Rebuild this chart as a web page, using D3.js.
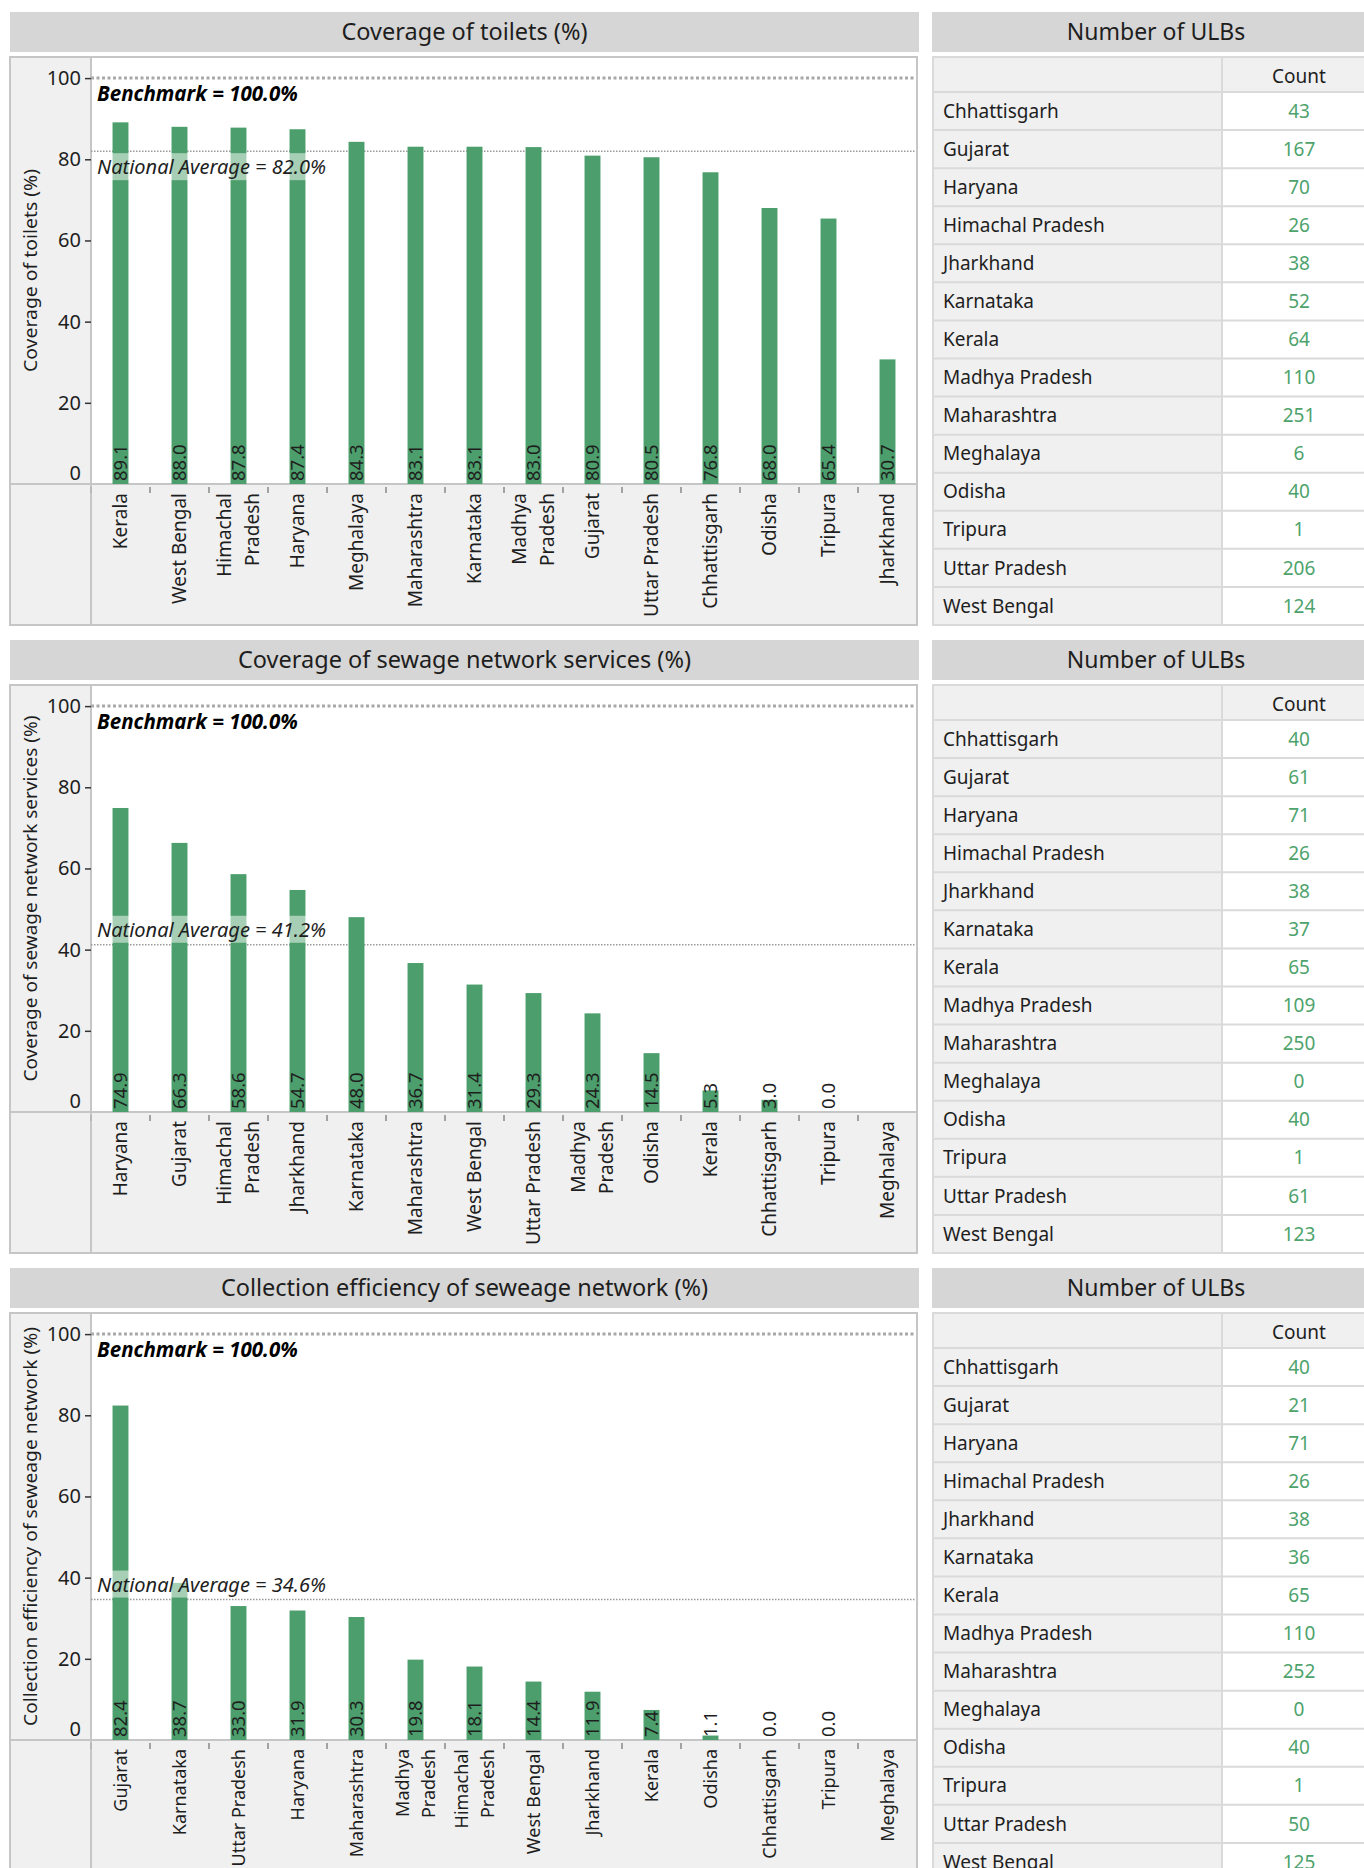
<!DOCTYPE html>
<html><head><meta charset="utf-8">
<script src="https://cdn.jsdelivr.net/npm/d3@7"></script>
<style>
body{margin:0;background:#fff}
svg{display:block;font-family:"Noto Sans",sans-serif}
</style>
</head><body>
<svg id="c" width="1364" height="1868"></svg>
<script>
// ---------- DATA ----------
const panelTitles = ["Coverage of toilets (%)", "Coverage of sewage network services (%)", "Collection efficiency of seweage network (%)"];
const yAxisTitles = ["Coverage of toilets (%)", "Coverage of sewage network services (%)", "Collection efficiency of seweage network (%)"];
const tableTitle = "Number of ULBs";
const tableHeader = "Count";

const toiletStates = ["Kerala","West Bengal","Himachal Pradesh","Haryana","Meghalaya","Maharashtra","Karnataka","Madhya Pradesh","Gujarat","Uttar Pradesh","Chhattisgarh","Odisha","Tripura","Jharkhand"];
const toiletValues = [89.1,88.0,87.8,87.4,84.3,83.1,83.1,83.0,80.9,80.5,76.8,68.0,65.4,30.7];
const toiletAverage = 82.0;

const sewageStates = ["Haryana","Gujarat","Himachal Pradesh","Jharkhand","Karnataka","Maharashtra","West Bengal","Uttar Pradesh","Madhya Pradesh","Odisha","Kerala","Chhattisgarh","Tripura","Meghalaya"];
const sewageValues = [74.9,66.3,58.6,54.7,48.0,36.7,31.4,29.3,24.3,14.5,5.3,3.0,0.0,null];
const sewageAverage = 41.2;

const collectionStates = ["Gujarat","Karnataka","Uttar Pradesh","Haryana","Maharashtra","Madhya Pradesh","Himachal Pradesh","West Bengal","Jharkhand","Kerala","Odisha","Chhattisgarh","Tripura","Meghalaya"];
const collectionValues = [82.4,38.7,33.0,31.9,30.3,19.8,18.1,14.4,11.9,7.4,1.1,0.0,0.0,null];
const collectionAverage = 34.6;

const benchmarkValue = 100;
const yTickValues = [0,20,40,60,80,100];
const wrappedLabels = {"Himachal Pradesh":["Himachal","Pradesh"], "Madhya Pradesh":["Madhya","Pradesh"]};

const tableStates = ["Chhattisgarh","Gujarat","Haryana","Himachal Pradesh","Jharkhand","Karnataka","Kerala","Madhya Pradesh","Maharashtra","Meghalaya","Odisha","Tripura","Uttar Pradesh","West Bengal"];
const toiletCounts = [43,167,70,26,38,52,64,110,251,6,40,1,206,124];
const sewageCounts = [40,61,71,26,38,37,65,109,250,0,40,1,61,123];
const collectionCounts = [40,21,71,26,38,36,65,110,252,0,40,1,50,125];

// ---------- LAYOUT ----------
const panels = [
  {title: panelTitles[0], yTitle: yAxisTitles[0], cats: toiletStates, vals: toiletValues, avg: toiletAverage, counts: toiletCounts, avgBelow: true, yTitleLen: 203, catFont: 19},
  {title: panelTitles[1], yTitle: yAxisTitles[1], cats: sewageStates, vals: sewageValues, avg: sewageAverage, counts: sewageCounts, avgBelow: false, yTitleLen: 366, catFont: 19},
  {title: panelTitles[2], yTitle: yAxisTitles[2], cats: collectionStates, vals: collectionValues, avg: collectionAverage, counts: collectionCounts, avgBelow: false, yTitleLen: 399, catFont: 18}
];

const BAR = "#4c9f6c", TXT = "#1e1e1e", GRID = "#c6c6c6", PANEL_BG = "#f0f0f0", TITLE_BG = "#d6d6d6";
const svg = d3.select("#c");
svg.append("rect").attr("width",1364).attr("height",1868).attr("fill","#fff");

const L = {fx0:10, fx1:917, tx1:919, ty0:12, ty1:52, fy0:57, plotL:91, plotB:484, fy1:625,
           tbx0:932, tbx1:1380, tbcol:1222, hdrB:92, cntX:1299};

panels.forEach((p, i) => {
  const g = svg.append("g").attr("transform", `translate(0,${i*628})`);

  // title bar
  g.append("rect").attr("x",L.fx0).attr("y",L.ty0).attr("width",L.tx1-L.fx0).attr("height",L.ty1-L.ty0).attr("fill",TITLE_BG);
  g.append("text").attr("x",(L.fx0+L.tx1)/2).attr("y",(L.ty0+L.ty1)/2).attr("dy","0.35em")
    .attr("text-anchor","middle").attr("font-size",23.5).attr("fill",TXT).text(p.title);

  // frame
  g.append("rect").attr("x",L.fx0).attr("y",L.fy0).attr("width",L.fx1-L.fx0).attr("height",L.fy1-L.fy0)
    .attr("fill",PANEL_BG).attr("stroke",GRID).attr("stroke-width",2);
  g.append("rect").attr("x",L.plotL).attr("y",L.fy0+1).attr("width",L.fx1-L.plotL-1).attr("height",L.plotB-L.fy0-1).attr("fill","#fff");
  g.append("line").attr("x1",L.plotL).attr("x2",L.plotL).attr("y1",L.fy0).attr("y2",L.fy1).attr("stroke",GRID).attr("stroke-width",2);
  g.append("line").attr("x1",L.fx0).attr("x2",L.fx1).attr("y1",L.plotB).attr("y2",L.plotB).attr("stroke",GRID).attr("stroke-width",2);

  const x = d3.scaleBand().domain(p.cats).range([L.plotL, L.fx1]).padding(0);
  const y = d3.scaleLinear().domain([0, 105.2]).range([L.plotB, L.fy0]);

  // y axis
  const ya = g.append("g").attr("transform",`translate(${L.plotL},0)`)
    .call(d3.axisLeft(y).tickValues(yTickValues).tickSize(6).tickPadding(4).tickFormat(d3.format("d")));
  ya.select(".domain").remove();
  ya.selectAll(".tick line").attr("stroke","#333").attr("stroke-width",1.5);
  ya.selectAll(".tick text").attr("font-size",20).attr("fill",TXT).attr("font-family","Noto Sans");
  ya.selectAll(".tick").filter(d=>d===0).each(function(){
    d3.select(this).select("line").remove();
    d3.select(this).select("text").attr("y",-11);
  });

  // y title
  g.append("text").attr("transform",`translate(31,${(L.fy0+L.plotB)/2}) rotate(-90)`)
    .attr("text-anchor","middle").attr("dy","0.35em").attr("font-size",18.5).attr("fill",TXT)
    .attr("textLength",p.yTitleLen).attr("lengthAdjust","spacingAndGlyphs").text(p.yTitle);

  // reference lines
  g.append("line").attr("x1",L.plotL).attr("x2",L.fx1-1).attr("y1",y(benchmarkValue)).attr("y2",y(benchmarkValue))
    .attr("stroke","#a8a8a8").attr("stroke-width",3).attr("stroke-dasharray","3,2.5");
  g.append("line").attr("x1",L.plotL).attr("x2",L.fx1-1).attr("y1",y(p.avg)).attr("y2",y(p.avg))
    .attr("stroke","#999").attr("stroke-width",1.5).attr("stroke-dasharray","1.5,1.5");

  // bars
  const data = p.cats.map((c,k)=>({c, v:p.vals[k]}));
  const bw = x.bandwidth()*0.27;
  g.append("g").selectAll("rect").data(data.filter(d=>d.v!==null)).join("rect")
    .attr("x",d=>x(d.c)+x.bandwidth()/2-bw/2).attr("width",bw)
    .attr("y",d=>y(d.v)).attr("height",d=>y(0)-y(d.v)).attr("fill",BAR);

  // bar labels
  g.append("g").selectAll("text").data(data.filter(d=>d.v!==null)).join("text")
    .attr("transform",d=>`translate(${x(d.c)+x.bandwidth()/2},${y(0)-3}) rotate(-90)`)
    .attr("dy","0.36em").attr("font-size",18.5).attr("fill",TXT).text(d=>d.v.toFixed(1));

  // national average label with translucent box
  const ay = p.avgBelow ? y(p.avg)+23 : y(p.avg)-8;
  const avgG = g.append("g");
  const avgRect = avgG.append("rect");
  const avgT = avgG.append("text").attr("x",97).attr("y",ay).attr("font-size",20).attr("font-style","italic")
    .attr("fill",TXT).text(`National Average = ${p.avg.toFixed(1)}%`);
  const bb = avgT.node().getBBox();
  avgRect.attr("x",bb.x).attr("y",bb.y).attr("width",bb.width).attr("height",bb.height).attr("fill","#fff").attr("fill-opacity",0.5);

  // benchmark label
  g.append("text").attr("x",97).attr("y",y(benchmarkValue)+23).attr("font-size",20.5).attr("font-weight","bold")
    .attr("font-style","italic").attr("fill","#000").text(`Benchmark = ${benchmarkValue.toFixed(1)}%`);

  // x boundary ticks
  g.append("g").selectAll("line").data(p.cats).join("line")
    .attr("x1",d=>x(d)).attr("x2",d=>x(d)).attr("y1",L.plotB+3).attr("y2",L.plotB+9)
    .attr("stroke",(d,k)=>k===0?"#aaa":"#555").attr("stroke-width",1);

  // x category labels
  const cl = g.append("g").selectAll("text").data(p.cats).join("text")
    .attr("transform",d=>`translate(${x(d)+x.bandwidth()/2},${L.plotB+9}) rotate(-90)`)
    .attr("text-anchor","end").attr("font-size",p.catFont).attr("fill",TXT);
  cl.each(function(d){
    const lines = wrappedLabels[d] || [d];
    const t = d3.select(this);
    lines.forEach((ln,k)=>{
      const off = (k - (lines.length-1)/2)*1.45 + 0.35;
      t.append("tspan").attr("x",0).attr("y",0).attr("dy",off+"em").text(ln);
    });
  });

  // ---------- table ----------
  g.append("rect").attr("x",L.tbx0).attr("y",L.ty0).attr("width",L.tbx1-L.tbx0).attr("height",L.ty1-L.ty0).attr("fill",TITLE_BG);
  g.append("text").attr("x",(L.tbx0+L.tbx1)/2).attr("y",(L.ty0+L.ty1)/2).attr("dy","0.35em")
    .attr("text-anchor","middle").attr("font-size",23).attr("fill",TXT).text(tableTitle);

  const ry = d3.scaleBand().domain(tableStates).range([L.hdrB, L.fy1]);
  g.append("rect").attr("x",L.tbx0).attr("y",L.fy0).attr("width",L.tbcol-L.tbx0).attr("height",L.fy1-L.fy0).attr("fill",PANEL_BG);
  g.append("rect").attr("x",L.tbcol).attr("y",L.fy0).attr("width",L.tbx1-L.tbcol).attr("height",L.hdrB-L.fy0).attr("fill",PANEL_BG);
  g.append("rect").attr("x",L.tbcol).attr("y",L.hdrB).attr("width",L.tbx1-L.tbcol).attr("height",L.fy1-L.hdrB).attr("fill","#fff");
  // borders
  const hl = [L.fy0, L.hdrB].concat(tableStates.map(s=>ry(s)+ry.bandwidth()));
  g.append("g").selectAll("line").data(hl).join("line")
    .attr("x1",L.tbx0).attr("x2",L.tbx1).attr("y1",d=>d).attr("y2",d=>d).attr("stroke","#dadada").attr("stroke-width",2);
  g.append("line").attr("x1",L.tbx0+1).attr("x2",L.tbx0+1).attr("y1",L.fy0).attr("y2",L.fy1).attr("stroke","#dadada").attr("stroke-width",2);
  g.append("line").attr("x1",L.tbcol).attr("x2",L.tbcol).attr("y1",L.fy0).attr("y2",L.fy1).attr("stroke","#dadada").attr("stroke-width",2);

  g.append("text").attr("x",L.cntX).attr("y",(L.fy0+L.hdrB)/2+2).attr("dy","0.35em")
    .attr("text-anchor","middle").attr("font-size",19).attr("fill",TXT).text(tableHeader);
  g.append("g").selectAll("text").data(tableStates).join("text")
    .attr("x",943).attr("y",d=>ry(d)+ry.bandwidth()/2).attr("dy","0.35em")
    .attr("font-size",19).attr("fill",TXT).text(d=>d);
  g.append("g").selectAll("text").data(p.counts).join("text")
    .attr("x",L.cntX).attr("y",(d,k)=>ry(tableStates[k])+ry.bandwidth()/2).attr("dy","0.35em")
    .attr("text-anchor","middle").attr("font-size",19).attr("fill","#4ea36c").text(d=>d);
});
</script>
</body></html>
